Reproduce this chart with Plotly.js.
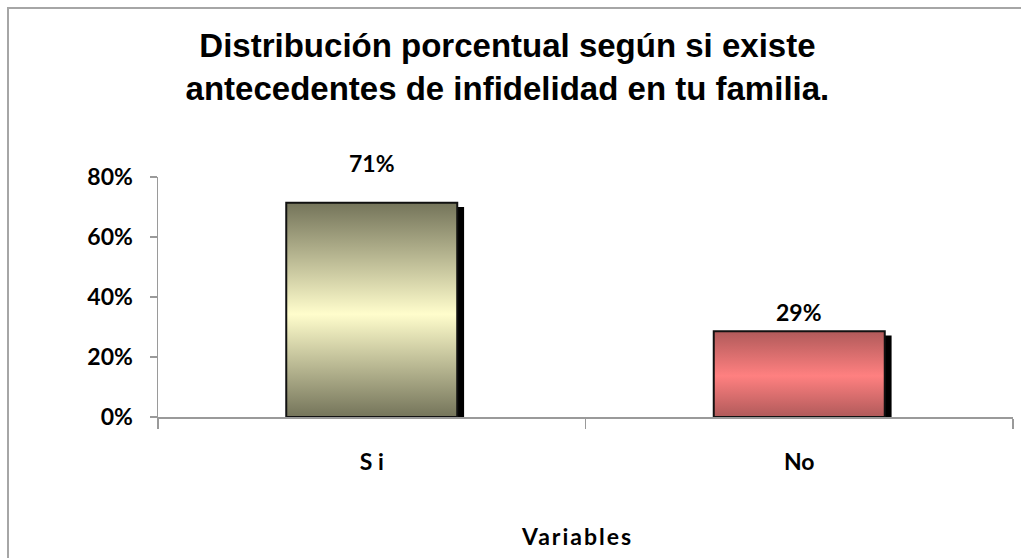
<!DOCTYPE html>
<html><head><meta charset="utf-8">
<script src="https://cdn.plot.ly/plotly-3.0.1.min.js"></script>
<style>
html,body{margin:0;padding:0;background:#fff;}
#wrap{position:relative;width:1021px;height:558px;overflow:hidden;}
#chart{width:1021px;height:558px;}
#frame{position:absolute;left:7px;top:7px;width:1100px;height:700px;border:2px solid #a6a6a6;pointer-events:none;}
</style></head>
<body><div id="wrap"><div id="chart"></div><div id="frame"></div></div>
<script>
// ---- data ----
const categories = ['S i', 'No'];
const values = [0.714, 0.286];
const valueLabels = ['71%', '29%'];
const yTickVals = [0, 0.2, 0.4, 0.6, 0.8];
const yTickText = ['0%', '20%', '40%', '60%', '80%'];

// ---- styling ----
const gradients = [
  {id: 'gSi', edge: '#74745a', mid: '#fffdcc'},
  {id: 'gNo', edge: '#b05a5a', mid: '#ff8080'}
];
const labelShift = [24, 3];
const SHADOW_DROP = 0.014;
const tickFont = {family: 'Lato, "Open Sans", sans-serif', size: 23, color: '#000', weight: 'bold'};

const shadow = {
  type: 'bar', x: categories, y: values.map(v => v - SHADOW_DROP), base: 0,
  width: 0.4, offset: -0.184,
  marker: {color: '#000', line: {width: 0}},
  hoverinfo: 'skip', showlegend: false
};
const bars = {
  type: 'bar', x: categories, y: values,
  width: 0.4, offset: -0.2,
  marker: {color: ['#d8d8a8', '#e07070'], line: {color: '#111', width: 2}},
  showlegend: false
};

const annotations = categories.map((c, i) => ({
  x: c, y: values[i], xref: 'x', yref: 'y', text: valueLabels[i],
  showarrow: false, yanchor: 'bottom', yshift: labelShift[i],
  font: tickFont
}));

const layout = {
  width: 1021, height: 558,
  margin: {l: 158, r: 8, t: 177, b: 141},
  paper_bgcolor: '#fff', plot_bgcolor: '#fff',
  barmode: 'overlay',
  title: {
    text: 'Distribución porcentual según si existe<br>antecedentes de infidelidad en tu familia.',
    font: {family: '"Liberation Sans", Arial, sans-serif', size: 33, color: '#000', weight: 'bold'},
    x: 0.497, xref: 'container', xanchor: 'center', y: 0.897, yref: 'container', yanchor: 'top'
  },
  xaxis: {
    type: 'category', range: [-0.5, 1.5],
    showline: true, linecolor: '#9a9a9a', linewidth: 1.5,
    ticks: 'outside', tickson: 'boundaries', ticklen: 10, tickcolor: '#9a9a9a', tickwidth: 1.5,
    showgrid: false, zeroline: false,
    tickfont: tickFont, ticklabelstandoff: 24,
    title: {text: 'Variables', font: tickFont, standoff: 55}
  },
  yaxis: {
    range: [0, 0.8], tickvals: yTickVals, ticktext: yTickText,
    showline: true, linecolor: '#9a9a9a', linewidth: 1.5,
    ticks: 'outside', ticklen: 7, tickcolor: '#9a9a9a', tickwidth: 1.5,
    showgrid: false, zeroline: false,
    tickfont: tickFont, ticklabelstandoff: 12
  },
  annotations: annotations
};

Plotly.newPlot('chart', [shadow, bars], layout, {staticPlot: true, displayModeBar: false}).then(gd => {
  const svg = gd.querySelector('svg.main-svg');
  const ns = 'http://www.w3.org/2000/svg';
  let defs = svg.querySelector('defs');
  if (!defs) { defs = document.createElementNS(ns, 'defs'); svg.insertBefore(defs, svg.firstChild); }
  gradients.forEach(g => {
    const lg = document.createElementNS(ns, 'linearGradient');
    lg.setAttribute('id', g.id);
    lg.setAttribute('x1', '0'); lg.setAttribute('y1', '0');
    lg.setAttribute('x2', '0'); lg.setAttribute('y2', '1');
    [[0, g.edge], [0.52, g.mid], [1, g.edge]].forEach(([o, c]) => {
      const s = document.createElementNS(ns, 'stop');
      s.setAttribute('offset', o); s.setAttribute('stop-color', c);
      lg.appendChild(s);
    });
    defs.appendChild(lg);
  });
  const traces = gd.querySelectorAll('.barlayer .trace');
  const main = traces[traces.length - 1];
  main.querySelectorAll('.point path').forEach((p, i) => {
    p.style.fill = 'url(#' + gradients[i].id + ')';
  });
  const xt = gd.querySelector('.xtitle');
  if (xt) {
    xt.style.letterSpacing = '2px';
    const x = parseFloat(xt.getAttribute('x'));
    if (!isNaN(x)) xt.setAttribute('x', x - 8);
  }
});
</script></body></html>
